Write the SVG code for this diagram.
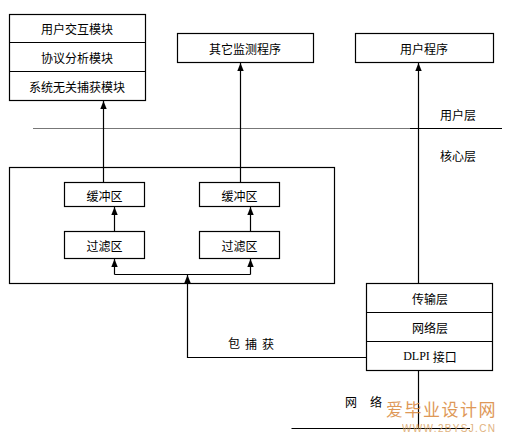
<svg xmlns="http://www.w3.org/2000/svg" width="507" height="442" viewBox="0 0 507 442">
<defs>
<style>
.box{fill:#fff;stroke:#000;stroke-width:1.2}
.ln{fill:none;stroke:#000;stroke-width:1.2}
.t{font-family:"Noto Sans CJK SC","Noto Sans",sans-serif;font-size:12px;fill:#000;text-anchor:middle;dominant-baseline:central}
.tl{font-family:"Noto Sans CJK SC","Noto Sans",sans-serif;font-size:12px;fill:#000;dominant-baseline:central}
</style>
<marker id="ah" viewBox="0 0 8 8" refX="8" refY="4" markerWidth="8" markerHeight="8" markerUnits="userSpaceOnUse" orient="auto">
<path d="M0,0.8 L8,4 L0,7.2 Z" fill="#000"/>
</marker>
</defs>
<rect width="507" height="442" fill="#fff"/>

<g id="left-stack">
<rect class="box" x="9.5" y="14.5" width="136" height="86"/>
<line class="ln" x1="9.5" y1="42.5" x2="145.5" y2="42.5"/>
<line class="ln" x1="9.5" y1="71.5" x2="145.5" y2="71.5"/>
<text class="t" x="77" y="28.5">用户交互模块</text>
<text class="t" x="77" y="57">协议分析模块</text>
<text class="t" x="77" y="86">系统无关捕获模块</text>
</g>

<g id="monitor">
<rect class="box" x="177.5" y="33.5" width="136" height="29"/>
<text class="t" x="245" y="48">其它监测程序</text>
</g>

<g id="userprog">
<rect class="box" x="355.5" y="33.5" width="138" height="29"/>
<text class="t" x="424" y="48">用户程序</text>
</g>

<g id="layer-labels">
<line x1="33" y1="128.5" x2="410" y2="128.5" stroke="#777" stroke-width="1.2"/>
<line x1="410" y1="128.5" x2="502" y2="128.5" stroke="#000" stroke-width="1.2"/>
<text class="tl" x="440" y="114">用户层</text>
<text class="tl" x="440" y="155">核心层</text>
</g>

<g id="kernel-box">
<rect class="box" x="9.5" y="167.5" width="325" height="116" fill="none"/>
</g>

<g id="buf1">
<rect class="box" x="64.5" y="182.5" width="80" height="24"/>
<text class="t" x="104.5" y="195">缓冲区</text>
</g>
<g id="buf2">
<rect class="box" x="199.5" y="182.5" width="80" height="24"/>
<text class="t" x="239.5" y="195">缓冲区</text>
</g>
<g id="flt1">
<rect class="box" x="64.5" y="231.5" width="80" height="27"/>
<text class="t" x="104.5" y="245">过滤区</text>
</g>
<g id="flt2">
<rect class="box" x="199.5" y="231.5" width="80" height="27"/>
<text class="t" x="239.5" y="245">过滤区</text>
</g>

<g id="right-stack">
<rect class="box" x="366.5" y="283.5" width="126" height="87"/>
<line class="ln" x1="366.5" y1="312.5" x2="492.5" y2="312.5"/>
<line class="ln" x1="366.5" y1="341.5" x2="492.5" y2="341.5"/>
<text class="t" x="430" y="298">传输层</text>
<text class="t" x="430" y="327">网络层</text>
<text class="t" x="430" y="356"><tspan font-family="'Liberation Serif',serif">DLPI </tspan>接口</text>
</g>

<g id="connectors">
<line class="ln" x1="103.5" y1="182.5" x2="103.5" y2="101" marker-end="url(#ah)"/>
<line class="ln" x1="240.5" y1="182.5" x2="240.5" y2="63" marker-end="url(#ah)"/>
<line class="ln" x1="418.5" y1="283.5" x2="418.5" y2="63" marker-end="url(#ah)"/>
<line class="ln" x1="114.5" y1="231.5" x2="114.5" y2="207" marker-end="url(#ah)"/>
<line class="ln" x1="250.5" y1="231.5" x2="250.5" y2="207" marker-end="url(#ah)"/>
<polyline class="ln" points="114.5,274.5 250.5,274.5"/>
<line class="ln" x1="114.5" y1="274.5" x2="114.5" y2="259" marker-end="url(#ah)"/>
<line class="ln" x1="250.5" y1="274.5" x2="250.5" y2="259" marker-end="url(#ah)"/>
<polyline class="ln" points="366.5,357.5 187.5,357.5 187.5,275" marker-end="url(#ah)"/>
<line class="ln" x1="418.5" y1="370.5" x2="418.5" y2="428.5"/>
<line class="ln" x1="291.5" y1="428.5" x2="470" y2="428.5"/>
</g>

<g id="labels">
<text class="tl" x="228" y="342.5">包<tspan dx="5">捕</tspan><tspan dx="5">获</tspan></text>
<text class="tl" x="345" y="401">网<tspan dx="13">络</tspan></text>
</g>

<g id="watermark">
<text x="386" y="416" font-family="'Noto Sans CJK SC',serif" font-size="17" fill="#d9873a" opacity="0.85" letter-spacing="1.5">爱毕业设计网</text>
<text x="402" y="432" font-family="'Liberation Sans',sans-serif" font-size="10" fill="#d9a060" opacity="0.8" textLength="93">WWW.2BYSJ.CN</text>
</g>
</svg>
